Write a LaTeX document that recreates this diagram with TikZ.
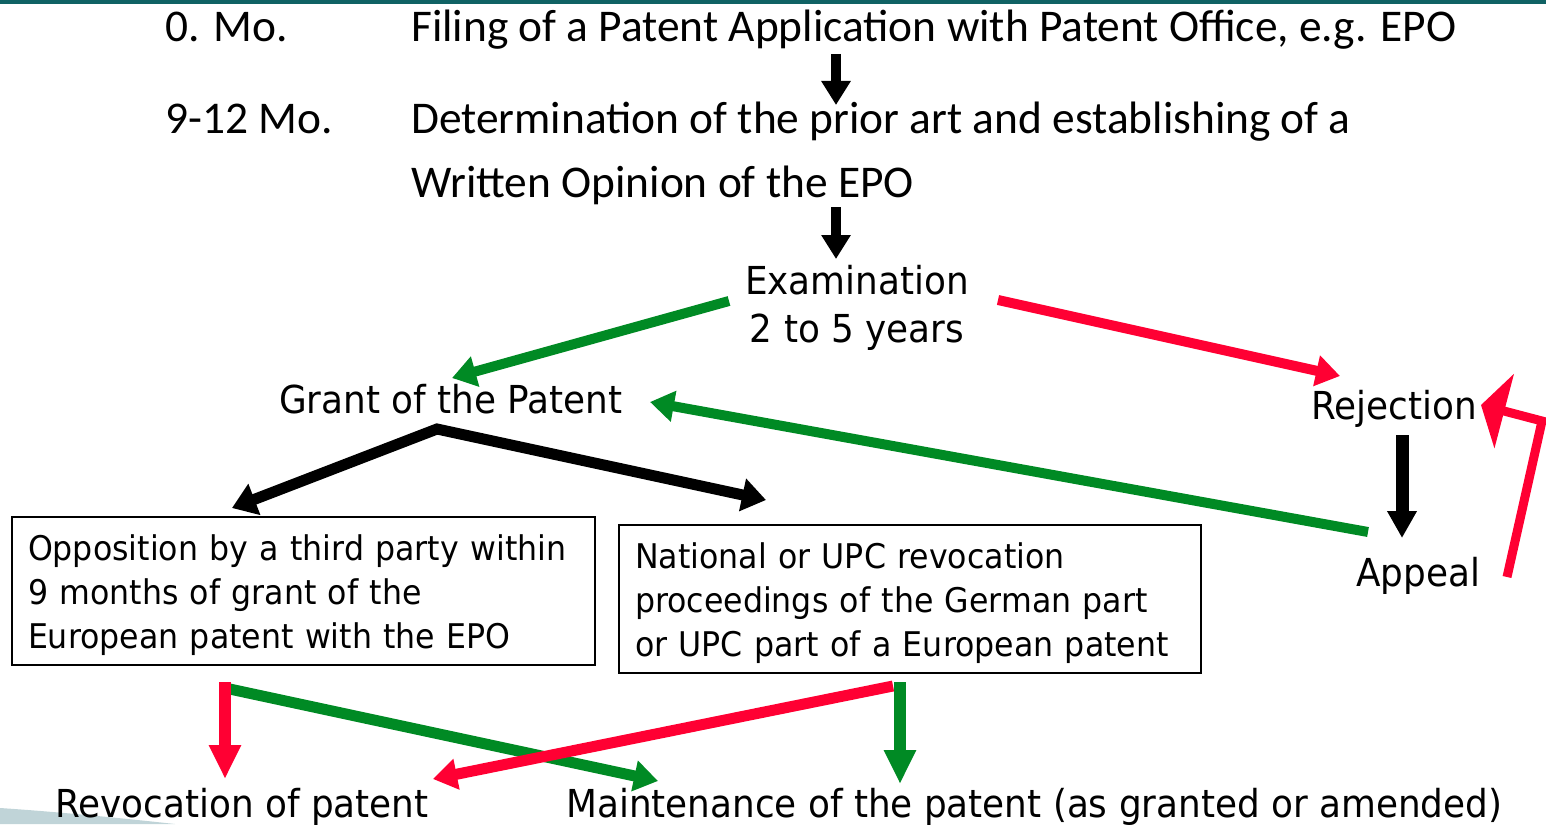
\documentclass[tikz,border=0pt]{standalone}
\usepackage{fontspec}
\newfontfamily\calfont{Carlito}
\newfontfamily\tahfont[FakeStretch=0.93]{DejaVu Sans}
\usetikzlibrary{arrows.meta}
\definecolor{patgreen}{RGB}{0,138,36}
\definecolor{patred}{RGB}{255,0,51}
\definecolor{slideteal}{RGB}{16,98,100}
\definecolor{slidegray}{RGB}{192,212,216}
\tikzset{
	steptext/.style={inner sep=0pt, anchor=base west, font=\calfont\fontsize{45.4}{54}\selectfont},
	lbl/.style={inner sep=0pt, anchor=base west, font=\tahfont\fontsize{38.5}{48}\selectfont},
	casebox/.style={draw, line width=1.6pt, outer sep=0pt, anchor=north west, align=left, inner xsep=16pt, inner ysep=0pt, minimum height=148pt, font=\tahfont\fontsize{34}{44}\selectfont},
	flow/.style={line width=10pt, line join=miter, -{Triangle[length=24pt,width=30pt]}},
	blk/.style={flow, draw=black},
	grn/.style={flow, draw=patgreen},
	rd/.style={flow, draw=patred},
	down/.style={line width=12pt, -{Triangle[length=34pt,width=30pt]}}
}
\newcommand{\firstline}{\rule{0pt}{34pt}}
\begin{document}
\begin{tikzpicture}[x=1pt, y=-1pt]
	\useasboundingbox (0,0) rectangle (1546,824);
	\fill[slideteal] (0,0) rectangle (1546,4);
	\fill[slidegray] (0,808) .. controls (60,812) and (120,818) .. (175,824) -- (0,824) -- cycle;

	\node[steptext] (mo0) at (165,42) {0. Mo.};
	\node[steptext] (filing) at (411,42) {Filing of a Patent Application with Patent Office, e.g. EPO};
	\node[steptext] (mo9) at (165,133) {9-12 Mo.};
	\node[steptext] (determ) at (411,133) {Determination of the prior art and establishing of a};
	\node[steptext] (opinion) at (411,197) {Written Opinion of the EPO};

	\node[lbl, anchor=north, align=center] (exam) at (857,265) {Examination\\2 to 5 years};
	\node[lbl] (grant) at (279,413) {Grant of the Patent};
	\node[lbl] (reject) at (1311,419) {Rejection};
	\node[lbl] (appeal) at (1356,586) {Appeal};
	\node[casebox, text width=551pt] (oppo) at (12,517) {\firstline Opposition by a third party within\\9 months of grant of the\\European patent with the EPO};
	\node[casebox, text width=550pt] (nat) at (619,525) {\firstline National or UPC revocation\\proceedings of the German part\\or UPC part of a European patent};
	\node[lbl] (revoc) at (55,817) {Revocation of patent};
	\node[lbl] (maint) at (566,817) {Maintenance of the patent (as granted or amended)};

	\coordinate (loopc) at (1542,421);

	\draw[blk, line width=10pt, -{Triangle[length=24pt,width=28pt]}] ([shift={(425,12)}]filing.base west) -- ([shift={(425,-28)}]determ.base west);
	\draw[blk, line width=10pt, -{Triangle[length=24pt,width=28pt]}] ([shift={(425,10)}]opinion.base west) -- ([shift={(-21,-6)}]exam.north);
	\draw[grn] ([shift={(-128,36)}]exam.north) -- ([shift={(173,-35)}]grant.base west);
	\draw[rd] ([shift={(141,35)}]exam.north) -- ([shift={(29,-43)}]reject.base west);
	\draw[grn] ([shift={(12,-54)}]appeal.base west) -- ([shift={(371,-11)}]grant.base west);
	\draw[blk, line width=11pt, {Triangle[length=24pt,width=32pt]}-{Triangle[length=24pt,width=32pt]}] ([shift={(220,-9)}]oppo.north west) -- ([shift={(158,16)}]grant.base west) -- ([shift={(147,-25)}]nat.north west);
	\draw[blk, line width=13pt, -{Triangle[length=27pt,width=28pt]}] ([shift={(91,16)}]reject.base west) -- ([shift={(46,-48)}]appeal.base west);
	\draw[rd, line width=9pt, -{Triangle[length=24pt,width=76pt]}] ([shift={(151,-9)}]appeal.base west) -- (loopc) -- ([shift={(170,-14)}]reject.base west);

	\draw[grn, line width=11pt] ([shift={(213,171)}]oppo.north west) -- ([shift={(92,-36)}]maint.base west);
	\draw[rd, down] ([shift={(213,165)}]oppo.north west) -- ([shift={(170,-38)}]revoc.base west);
	\draw[rd, line width=11pt] ([shift={(274,161)}]nat.north west) -- ([shift={(378,-38)}]revoc.base west);
	\draw[grn, down] ([shift={(281,157)}]nat.north west) -- ([shift={(334,-33)}]maint.base west);
\end{tikzpicture}
\end{document}
